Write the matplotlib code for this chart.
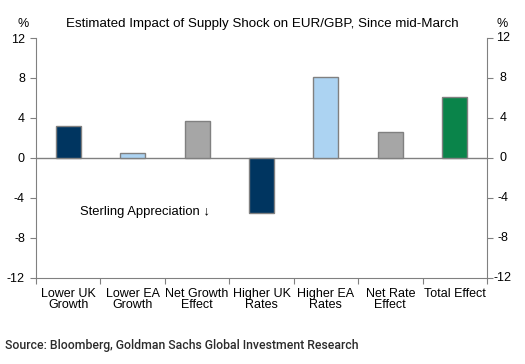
import matplotlib
matplotlib.use("Agg")
import matplotlib.pyplot as plt
import numpy as np

plt.rcParams['font.family'] = ['Liberation Sans', 'DejaVu Sans']

categories = ["Lower UK\nGrowth", "Lower EA\nGrowth", "Net Growth\nEffect",
              "Higher UK\nRates", "Higher EA\nRates", "Net Rate\nEffect", "Total Effect"]
values = [3.2, 0.45, 3.65, -5.5, 8.1, 2.6, 6.1]
colors = ["#003560", "#acd3f2", "#a6a6a6", "#003560", "#acd3f2", "#a6a6a6", "#0a844a"]
yticks = [-12, -8, -4, 0, 4, 8, 12]

fig = plt.figure(figsize=(5.25, 3.64), dpi=100)
ax = fig.add_axes([0.0686, 0.2363, 0.859, 0.6593])

x = np.arange(len(values))
ax.bar(x, values, width=0.39, color=colors, edgecolor="#808080", linewidth=1.0, zorder=3)
ax.axhline(0, color="#808080", linewidth=1.0, zorder=2)

ax.set_xlim(-0.5, len(values) - 0.5)
ax.set_ylim(-12, 12)
ax.set_yticks(yticks)
ax.set_yticklabels([str(v) for v in yticks], fontsize=9)
ax.tick_params(axis="y", length=4, color="#808080", right=True, labelright=False, pad=4)

# right axis labels, centred like the original
rt = ax.get_yaxis_transform()
for v in yticks:
    ax.text(1.0 + 16 / 451, v, str(v), transform=rt, fontsize=9, ha="center", va="center")

# x ticks at category boundaries, labels at centres
ax.set_xticks(np.arange(-0.5, len(values)))
ax.set_xticklabels([])
ax.set_xticks(x, minor=True)
ax.set_xticklabels(categories, minor=True, fontsize=9, linespacing=0.9)
ax.tick_params(axis="x", which="minor", length=0, pad=7)
ax.tick_params(axis="x", which="major", length=4, color="#808080", direction="out")

ax.spines["top"].set_visible(False)
for side in ["left", "right", "bottom"]:
    ax.spines[side].set_color("#808080")

fig.text(23 / 525, 1 - 24 / 364, "%", fontsize=9, ha="center", va="center")
fig.text(502 / 525, 1 - 24 / 364, "%", fontsize=9, ha="center", va="center")
fig.text(262 / 525, 1 - 24 / 364, "Estimated Impact of Supply Shock on EUR/GBP, Since mid-March",
         fontsize=9.6, ha="center", va="center")

ax.text(0.18, -5.4, "Sterling Appreciation \u2193", fontsize=9.4, ha="left", va="center")

fig.text(5 / 525, 1 - 345 / 364, "Source: Bloomberg, Goldman Sachs Global Investment Research",
         fontsize=8.8, color="#2b2b2b", fontweight="medium", va="center",
         family=["Roboto", "DejaVu Sans"])

fig.savefig("out.png", dpi=100)
